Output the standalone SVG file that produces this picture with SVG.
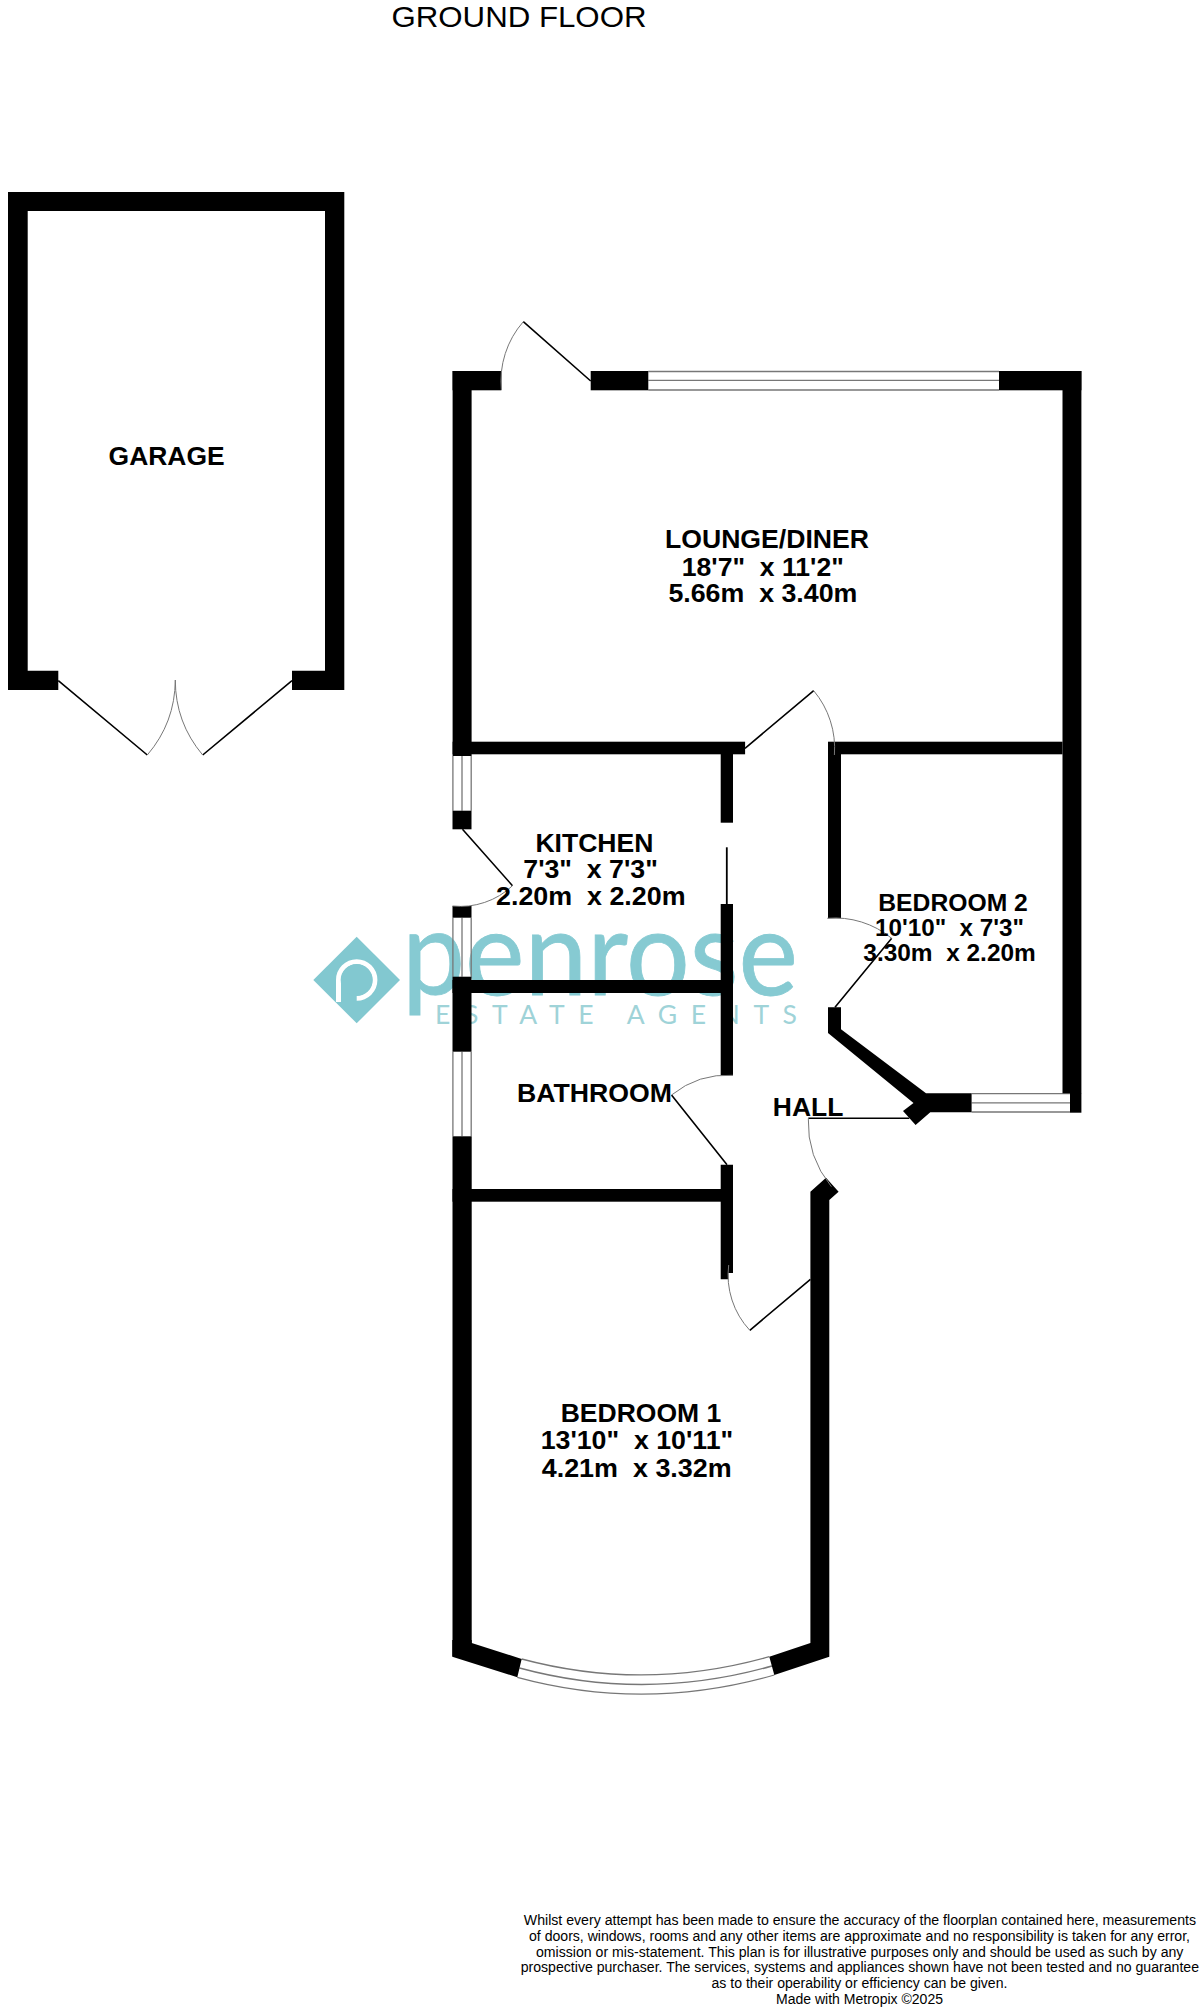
<svg xmlns="http://www.w3.org/2000/svg" width="1204" height="2008" viewBox="0 0 1204 2008">
<style>
text{font-family:"Liberation Sans",Arial,sans-serif;fill:#000;white-space:pre}
.b{font-weight:700}
.r25{font-size:26.5px}
.r23{font-size:24px}
.d{font-size:13.8px;text-anchor:start}
.w{fill:#000;stroke:none}
.leaf{fill:none;stroke:#000;stroke-width:1.6}
.arc{fill:none;stroke:#777;stroke-width:1}
.win{fill:none;stroke:#777;stroke-width:1.3}
.teal{fill:#82c8d0}
</style>
<rect width="1204" height="2008" fill="#fff"/>
<g id="logo">
<path class="teal" d="M356.7 936.7L400 980L356.7 1023.3L313.3 980Z"/>
<path d="M338.5 1002V980a18.2 18.2 0 1 1 18.2 18.2" fill="none" stroke="#fff" stroke-width="5"/>
<circle class="teal" cx="356.7" cy="980" r="16"/>
<text x="402" y="995" textLength="396" lengthAdjust="spacingAndGlyphs" style="font-family:Lato,sans-serif;font-size:118px;fill:#86cad2;stroke:#86cad2;stroke-width:0.8">penrose</text>
<text x="435" y="1024" textLength="362" style="font-family:Lato,sans-serif;font-size:26.5px;font-weight:400;fill:#9fd3d8">ESTATE AGENTS</text>
</g>
<g id="title"><text x="391.5" y="27.3" font-size="30" textLength="255" lengthAdjust="spacingAndGlyphs">GROUND FLOOR</text></g>
<g id="garage">
<path class="w" d="M8 192H344.3V690H292V670.7H325V211H27.7V670.7H58.3V690H8Z"/>
<path class="leaf" d="M58.3 680.7L147.3 755M292 680.7L202.7 755"/>
<path class="arc" d="M147.3 755A116.5 116.5 0 0 0 175.3 680M202.7 755A116.5 116.5 0 0 1 175.3 680"/>
<text class="b" x="108.6" y="464.8" font-size="26.5" textLength="116" lengthAdjust="spacingAndGlyphs">GARAGE</text>
</g>
<g id="windows">
<path class="win" d="M648.3 371.5H999M648.3 380.3H999M648.3 390H999"/>
<path class="win" d="M452.9 756V810.7M462 756V810.7M471.2 756V810.7"/>
<path class="win" d="M452.9 917.7V976.7M462 917.7V976.7M471.2 917.7V976.7"/>
<path class="win" d="M452.9 1051.7V1136.3M462 1051.7V1136.3M471.2 1051.7V1136.3"/>
<path class="win" d="M971.6 1093.6H1070M971.6 1102.8H1070M971.6 1112H1070"/>
<path class="win" d="M521.7 1659Q645 1692 769.3 1656.7M519.5 1668Q645 1702 772 1666M517.3 1677.3Q645 1712 774.3 1675"/>
</g>
<g id="walls">
<rect class="w" x="452.6" y="371" width="48.8" height="19.3"/>
<rect class="w" x="590.7" y="371" width="57.6" height="19.3"/>
<rect class="w" x="999" y="371" width="82.4" height="19.3"/>
<rect class="w" x="452.6" y="371" width="19" height="385"/>
<rect class="w" x="452.6" y="741.7" width="292.5" height="12.6"/>
<rect class="w" x="828" y="741.7" width="234.5" height="12.6"/>
<rect class="w" x="1062.5" y="371" width="18.9" height="722.3"/>
<rect class="w" x="1070" y="1093" width="11.4" height="19.7"/>
<rect class="w" x="720.7" y="754" width="12.3" height="68.7"/>
<rect class="w" x="725.9" y="847.3" width="1.8" height="57"/>
<rect class="w" x="720.7" y="904" width="12.3" height="171.3"/>
<rect class="w" x="452.5" y="810.7" width="19" height="18.6"/>
<rect class="w" x="452.5" y="906" width="19" height="11.7"/>
<rect class="w" x="452.5" y="976.7" width="19" height="75"/>
<rect class="w" x="452.5" y="980" width="280.5" height="13"/>
<rect class="w" x="452.5" y="1136.3" width="19.2" height="520"/>
<rect class="w" x="452.5" y="1189" width="280.5" height="12.7"/>
<path class="w" d="M720.7 1164.7H733V1273H728.3V1279.3H720.7Z"/>
<path class="w" d="M452.3 1640H471.7V1643L521.7 1659L517.3 1677.3L452.3 1656.7Z"/>
<path class="w" d="M810.4 1191.7L826 1177.7L838.6 1191.7L829.3 1200V1656.7L774.3 1675L769.3 1656.7L810.4 1643Z"/>
<path class="w" d="M828 742H841V918.3H828Z"/>
<path class="w" d="M828 1007.3H841V1029.3L926 1093.3H971.6V1112.3H930.3L915.6 1125L903 1111L913.5 1103L828 1033Z"/>
</g>
<g id="doors">
<path class="leaf" d="M590.7 381L523.3 321.7M745 748.3L813.7 690.7M462.5 829.3L512.5 885.7M835 1007.3L891.7 938.3M671.5 1095L727 1164.7M810.4 1279.3L749.8 1330.3M808.3 1118.3H909.3"/>
<path class="arc" d="M523.3 321.7A90 90 0 0 0 501.4 390M813.7 690.7A89.6 89.6 0 0 1 834.4 755M512.5 885.7A76 76 0 0 1 452.5 906M827.3 918.3A89.3 89.3 0 0 1 891.7 938.3M671.5 1095A89.5 89.5 0 0 1 733 1075.3M808.3 1118.3A102 102 0 0 0 831.4 1186.7M728.7 1265A81 81 0 0 0 749.8 1330.3"/>
</g>
<g id="lounge-diner" class="b r25">
<text x="665" y="548.3" textLength="204" lengthAdjust="spacingAndGlyphs">LOUNGE/DINER</text>
<text x="681.8" y="575.7" textLength="162" lengthAdjust="spacingAndGlyphs">18'7"  x 11'2"</text>
<text x="668.4" y="602.3" textLength="189" lengthAdjust="spacingAndGlyphs">5.66m  x 3.40m</text>
</g>
<g id="kitchen" class="b r25">
<text x="535.4" y="851.7" textLength="118" lengthAdjust="spacingAndGlyphs">KITCHEN</text>
<text x="523.3" y="878" textLength="134.5" lengthAdjust="spacingAndGlyphs">7'3"  x 7'3"</text>
<text x="496" y="905" textLength="189.5" lengthAdjust="spacingAndGlyphs">2.20m  x 2.20m</text>
</g>
<g id="bathroom" class="b r25"><text x="516.9" y="1101.7" textLength="155" lengthAdjust="spacingAndGlyphs">BATHROOM</text></g>
<g id="hall" class="b r25"><text x="772.8" y="1116" textLength="70.5" lengthAdjust="spacingAndGlyphs">HALL</text></g>
<g id="bedroom-2" class="b r23">
<text x="878.3" y="911" textLength="149.5" lengthAdjust="spacingAndGlyphs">BEDROOM 2</text>
<text x="875" y="936" textLength="149" lengthAdjust="spacingAndGlyphs">10'10"  x 7'3"</text>
<text x="863.3" y="960.7" textLength="172.5" lengthAdjust="spacingAndGlyphs">3.30m  x 2.20m</text>
</g>
<g id="bedroom-1" class="b r25">
<text x="560.7" y="1422.3" textLength="160.5" lengthAdjust="spacingAndGlyphs">BEDROOM 1</text>
<text x="540.7" y="1449.3" textLength="192.5" lengthAdjust="spacingAndGlyphs">13'10"  x 10'11"</text>
<text x="541.7" y="1476.7" textLength="190" lengthAdjust="spacingAndGlyphs">4.21m  x 3.32m</text>
</g>
<g id="disclaimer">
<text class="d" x="523.8" y="1925" textLength="672.2" lengthAdjust="spacingAndGlyphs">Whilst every attempt has been made to ensure the accuracy of the floorplan contained here, measurements</text>
<text class="d" x="529" y="1940.7" textLength="661" lengthAdjust="spacingAndGlyphs">of doors, windows, rooms and any other items are approximate and no responsibility is taken for any error,</text>
<text class="d" x="536" y="1956.7" textLength="647.4" lengthAdjust="spacingAndGlyphs">omission or mis-statement. This plan is for illustrative purposes only and should be used as such by any</text>
<text class="d" x="520.7" y="1972.3" textLength="678.3" lengthAdjust="spacingAndGlyphs">prospective purchaser. The services, systems and appliances shown have not been tested and no guarantee</text>
<text class="d" x="711.5" y="1988.3" textLength="295.9" lengthAdjust="spacingAndGlyphs">as to their operability or efficiency can be given.</text>
<text class="d" x="776" y="2004" textLength="167" lengthAdjust="spacingAndGlyphs">Made with Metropix ©2025</text>
</g>
</svg>
